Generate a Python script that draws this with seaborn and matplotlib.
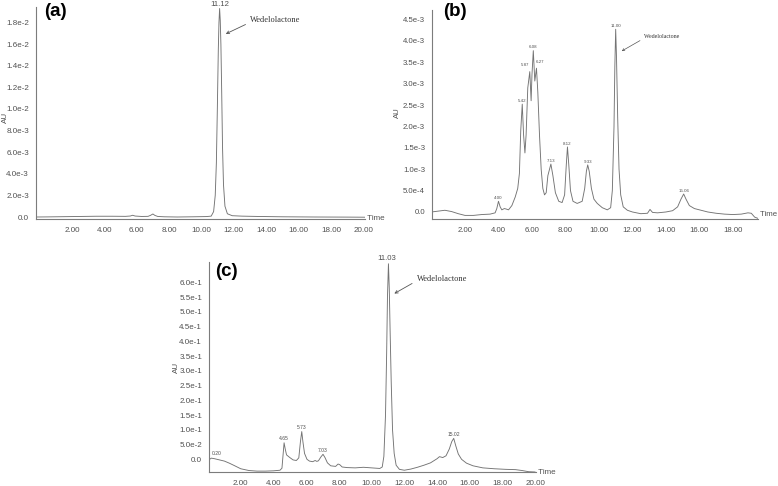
import matplotlib
matplotlib.use("Agg")
import matplotlib.pyplot as plt
import numpy as np
import seaborn as sns
from matplotlib.ticker import AutoMinorLocator, FixedLocator, FixedFormatter

sns.set_style("white")
plt.rcParams['font.family'] = ['Liberation Sans', 'DejaVu Sans']

# ---------------- data ----------------
# (a) standard
a_time = [-0.2, 0.5, 1.5, 2.5, 3.5, 4.5, 5.3, 5.6, 5.75, 5.9, 6.3, 6.7, 6.85, 7.0, 7.12,
          7.3, 7.7, 8.5, 9.5, 10.3, 10.6, 10.75, 10.85, 10.92, 10.98, 11.04, 11.08, 11.12,
          11.16, 11.2, 11.25, 11.3, 11.36, 11.45, 11.6, 11.9, 12.5, 13.5, 15.0, 17.0, 19.0, 20.1]
a_au = [0.0, 0.00001, 0.00003, 0.00005, 0.00007, 0.00007, 0.00006, 0.00009, 0.00016, 0.00009,
        0.00005, 0.00006, 0.00015, 0.00028, 0.00015, 0.00005, 0.00002, 0.0, 0.00002, 0.00004,
        0.00008, 0.0005, 0.0020, 0.0050, 0.0100, 0.0155, 0.0180, 0.0193, 0.0182, 0.0160,
        0.0115, 0.0065, 0.0030, 0.0010, 0.0003, 0.00012, 0.00008, 0.00005, 0.00002, 0.0,
        -0.00001, -0.00002]
a_peak_rt = [11.12]
a_peak_txt = ["11.12"]

# (b) extract
b_time = [0.0, 0.4, 0.8, 1.2, 1.6, 2.0, 2.5, 3.0, 3.5, 3.8, 3.9, 4.0, 4.1, 4.2, 4.35, 4.45,
          4.6, 4.8, 5.0, 5.15, 5.25, 5.33, 5.42, 5.5, 5.58, 5.65, 5.75, 5.87, 5.95, 6.0, 6.08,
          6.17, 6.27, 6.35, 6.45, 6.55, 6.65, 6.75, 6.85, 6.95, 7.05, 7.13, 7.25, 7.4, 7.6,
          7.8, 7.95, 8.05, 8.12, 8.2, 8.3, 8.45, 8.7, 9.0, 9.15, 9.25, 9.33, 9.42, 9.55, 9.7,
          9.9, 10.2, 10.5, 10.7, 10.8, 10.9, 10.95, 11.0, 11.05, 11.12, 11.2, 11.3, 11.45,
          11.7, 12.0, 12.5, 12.9, 13.05, 13.2, 13.5, 14.0, 14.4, 14.7, 14.9, 15.06, 15.2,
          15.4, 15.7, 16.0, 16.5, 17.0, 17.5, 18.0, 18.5, 18.9, 19.1, 19.3, 19.5]
b_au = [0.0, 0.00002, 0.00004, 0.00001, -0.00004, -0.00008, -0.00008, -0.00006, -0.00005,
        -0.00002, 0.00008, 0.00025, 0.00012, 0.00005, 0.00008, 0.00007, 0.00005, 0.00015,
        0.00035, 0.00055, 0.0009, 0.0019, 0.00252, 0.0018, 0.00138, 0.0018, 0.0029, 0.00328,
        0.0026, 0.0032, 0.00377, 0.00306, 0.00336, 0.0028, 0.0018, 0.0010, 0.00055, 0.00040,
        0.00045, 0.00085, 0.0010, 0.00112, 0.00085, 0.00045, 0.00025, 0.00022, 0.0004,
        0.0011, 0.00152, 0.0011, 0.0005, 0.00025, 0.0002, 0.00025, 0.00055, 0.00095, 0.0011,
        0.00095, 0.00055, 0.0003, 0.0002, 0.0001, 0.00005, 0.0001, 0.0005, 0.0020, 0.0034,
        0.00427, 0.0036, 0.0022, 0.0010, 0.0004, 0.00012, 0.00004, 0.0, -0.00004, -0.00003,
        0.00006, -0.00001, -0.00002, 0.0, 0.00003, 0.00012, 0.0003, 0.00042, 0.0003, 0.00015,
        0.00008, 0.00005, 0.0, -0.00003, -0.00005, -0.00006, -0.00005, -0.00002, -0.00003,
        -0.00012, -0.00015]
b_peak_rt = [4.00, 5.42, 5.87, 6.08, 6.27, 7.13, 8.12, 9.33, 11.00, 15.06]
b_peak_txt = ["4.00", "5.42", "5.87", "6.08", "6.27", "7.13", "8.12", "9.33", "11.00", "15.06"]

# (c) sample
c_time = [0.1, 0.2, 0.4, 0.7, 1.0, 1.3, 1.6, 2.0, 2.5, 3.0, 3.5, 4.0, 4.4, 4.52, 4.58, 4.65,
          4.72, 4.8, 5.0, 5.2, 5.4, 5.55, 5.65, 5.73, 5.8, 5.9, 6.05, 6.2, 6.4, 6.55, 6.65,
          6.75, 6.9, 7.03, 7.15, 7.3, 7.5, 7.8, 7.95, 8.05, 8.2, 8.5, 9.0, 9.5, 10.0, 10.5,
          10.65, 10.75, 10.85, 10.92, 10.97, 11.03, 11.08, 11.13, 11.2, 11.28, 11.38, 11.5,
          11.7, 12.0, 12.4, 12.8, 13.2, 13.6, 14.0, 14.15, 14.35, 14.55, 14.75, 14.9, 15.02,
          15.15, 15.3, 15.5, 15.8, 16.2, 16.8, 17.5, 18.2, 18.8, 19.2, 19.6, 20.0]
c_au = [0.0, 0.004, 0.002, -0.002, -0.006, -0.013, -0.021, -0.032, -0.038, -0.040, -0.040,
        -0.039, -0.037, -0.030, 0.010, 0.056, 0.035, 0.015, 0.006, -0.002, -0.004, 0.005,
        0.060, 0.094, 0.060, 0.020, 0.000, -0.006, -0.008, -0.004, -0.007, -0.005, 0.008,
        0.017, 0.006, -0.012, -0.022, -0.024, -0.016, -0.018, -0.026, -0.028, -0.029, -0.027,
        -0.029, -0.031, -0.026, 0.010, 0.150, 0.360, 0.550, 0.663, 0.580, 0.440, 0.260,
        0.100, 0.020, -0.020, -0.034, -0.037, -0.033, -0.027, -0.020, -0.012, 0.002, 0.009,
        0.006, 0.012, 0.035, 0.060, 0.071, 0.045, 0.018, 0.000, -0.013, -0.022, -0.029,
        -0.032, -0.034, -0.035, -0.038, -0.042, -0.043]
c_peak_rt = [0.20, 4.65, 5.73, 7.03, 11.03, 15.02]
c_peak_txt = ["0.20", "4.65", "5.73", "7.03", "11.03", "15.02"]

# tick labels
ac_xticks = [2, 4, 6, 8, 10, 12, 14, 16, 18, 20]
ac_xticklabels = ["2.00", "4.00", "6.00", "8.00", "10.00", "12.00", "14.00", "16.00", "18.00", "20.00"]
b_xticks = [2, 4, 6, 8, 10, 12, 14, 16, 18]
b_xticklabels = ["2.00", "4.00", "6.00", "8.00", "10.00", "12.00", "14.00", "16.00", "18.00"]
a_yticks = [0.0, 0.002, 0.004, 0.006, 0.008, 0.010, 0.012, 0.014, 0.016, 0.018]
a_yticklabels = ["0.0", "2.0e-3", "4.0e-3", "6.0e-3", "8.0e-3", "1.0e-2", "1.2e-2", "1.4e-2", "1.6e-2", "1.8e-2"]
b_yticks = [0.0, 0.0005, 0.0010, 0.0015, 0.0020, 0.0025, 0.0030, 0.0035, 0.0040, 0.0045]
b_yticklabels = ["0.0", "5.0e-4", "1.0e-3", "1.5e-3", "2.0e-3", "2.5e-3", "3.0e-3", "3.5e-3", "4.0e-3", "4.5e-3"]
c_yticks = [0.0, 0.05, 0.10, 0.15, 0.20, 0.25, 0.30, 0.35, 0.40, 0.45, 0.50, 0.55, 0.60]
c_yticklabels = ["0.0", "5.0e-2", "1.0e-1", "1.5e-1", "2.0e-1", "2.5e-1", "3.0e-1", "3.5e-1",
                 "4.0e-1", "4.5e-1", "5.0e-1", "5.5e-1", "6.0e-1"]

# ---------------- drawing ----------------
W, H = 778, 486
fig = plt.figure(figsize=(W / 100, H / 100), dpi=100)
fig.patch.set_facecolor("white")

AXC = "#7c7c7c"
LINEC = "#737373"
TXT = "#505050"
SERIF = ["Liberation Serif", "DejaVu Serif"]


def make_ax(left, top, right, bottom):
    return fig.add_axes([left / W, 1 - bottom / H, (right - left) / W, (bottom - top) / H])


def style(ax, xlim, ylim, xt, xtl, yt, ytl, yminor, fs, aux, auy, timey):
    ax.set_facecolor("none")
    ax.set_xlim(*xlim)
    ax.set_ylim(*ylim)
    for s in ["top", "right"]:
        ax.spines[s].set_visible(False)
    for s in ["left", "bottom"]:
        ax.spines[s].set_color(AXC)
        ax.spines[s].set_linewidth(0.8)
    ax.xaxis.set_major_locator(FixedLocator(xt))
    ax.xaxis.set_major_formatter(FixedFormatter(xtl))
    ax.yaxis.set_major_locator(FixedLocator(yt))
    ax.yaxis.set_major_formatter(FixedFormatter(ytl))
    ax.xaxis.set_minor_locator(AutoMinorLocator(10))
    ax.yaxis.set_minor_locator(AutoMinorLocator(yminor))
    ax.tick_params(which="major", length=3, width=0.6, color=AXC, labelsize=fs,
                   labelcolor=TXT, pad=2, direction="out")
    ax.tick_params(axis="x", which="major", pad=3)
    ax.tick_params(which="minor", length=1.6, width=0.5, color=AXC, direction="out")
    ax.set_xlabel("")
    ax.set_ylabel("")
    ax.text(aux, auy, "AU", transform=ax.transAxes, rotation=90, ha="center", va="center",
            fontsize=fs, color=TXT)
    ax.text(1.0, timey, " Time", transform=ax.transAxes, ha="left", va="center",
            fontsize=fs, color=TXT)
    ax.grid(False)


def label_peaks(ax, times, values, rts, txts, fs, offsets):
    for rt, t in zip(rts, txts):
        h = np.interp(rt, times, values)
        dx, dy = offsets.get(t, (0, 1))
        ax.annotate(t, xy=(rt, h), xytext=(dx, dy), textcoords="offset points",
                    ha="center", va="bottom", fontsize=fs, color=TXT)


# ---- (a)
ax_a = make_ax(36, 7, 365, 219)
sns.lineplot(x=a_time, y=a_au, ax=ax_a, color=LINEC, linewidth=0.65, estimator=None, sort=False)
style(ax_a, (-0.22, 20.1), (-0.000185, 0.01944), ac_xticks, ac_xticklabels,
      a_yticks, a_yticklabels, 4, 5.8, -0.094, 0.48, 0.0)
label_peaks(ax_a, a_time, a_au, a_peak_rt, a_peak_txt, 5.6, {"11.12": (0, 0.5)})
ax_a.annotate("Wedelolactone", xy=(11.5, 0.01695), xytext=(13.0, 0.01824), textcoords="data",
              ha="left", va="center", fontsize=6, family=SERIF, color="#333333",
              arrowprops=dict(arrowstyle="->", color="#555555", lw=0.6, shrinkA=1, shrinkB=0,
                              relpos=(0, 0.2), mutation_scale=5))

# ---- (b)
ax_b = make_ax(432, 10, 758, 219)
sns.lineplot(x=b_time, y=b_au, ax=ax_b, color=LINEC, linewidth=0.65, estimator=None, sort=False)
style(ax_b, (0.03, 19.5), (-0.000164, 0.00472), b_xticks, b_xticklabels,
      b_yticks, b_yticklabels, 5, 5.6, -0.107, 0.507, 0.02)
label_peaks(ax_b, b_time, b_au, b_peak_rt, b_peak_txt, 3.2,
            {"5.87": (-3.5, 3), "6.27": (2.5, 3), "6.08": (0, 1)})
ax_b.annotate("Wedelolactone", xy=(11.36, 0.00376), xytext=(12.72, 0.0041), textcoords="data",
              ha="left", va="center", fontsize=4.2, family=SERIF, color="#333333",
              arrowprops=dict(arrowstyle="->", color="#555555", lw=0.5, shrinkA=1, shrinkB=0,
                              relpos=(0, 0.2), mutation_scale=4))

# ---- (c)
ax_c = make_ax(209, 262, 536, 472)
sns.lineplot(x=c_time, y=c_au, ax=ax_c, color=LINEC, linewidth=0.65, estimator=None, sort=False)
style(ax_c, (0.06, 20.05), (-0.043, 0.669), ac_xticks, ac_xticklabels,
      c_yticks, c_yticklabels, 5, 5.8, -0.098, 0.5, 0.0)
label_peaks(ax_c, c_time, c_au, c_peak_rt, c_peak_txt, 3.6,
            {"0.20": (4, 1.5), "11.03": (-1, 1.5)})
for t in ax_c.texts:
    if t.get_text() == "11.03":
        t.set_fontsize(5.6)
ax_c.annotate("Wedelolactone", xy=(11.39, 0.562), xytext=(12.75, 0.613), textcoords="data",
              ha="left", va="center", fontsize=6, family=SERIF, color="#333333",
              arrowprops=dict(arrowstyle="->", color="#555555", lw=0.6, shrinkA=1, shrinkB=0,
                              relpos=(0, 0.2), mutation_scale=5))

# panel letters
for (px, py, s) in [(55, 12, "(a)"), (455, 11, "(b)"), (226, 272, "(c)")]:
    fig.text(px / W, 1 - py / H, s, ha="center", va="center", fontsize=13.5,
             fontweight="bold", color="black")

fig.savefig("out.png", dpi=100, facecolor="white")
